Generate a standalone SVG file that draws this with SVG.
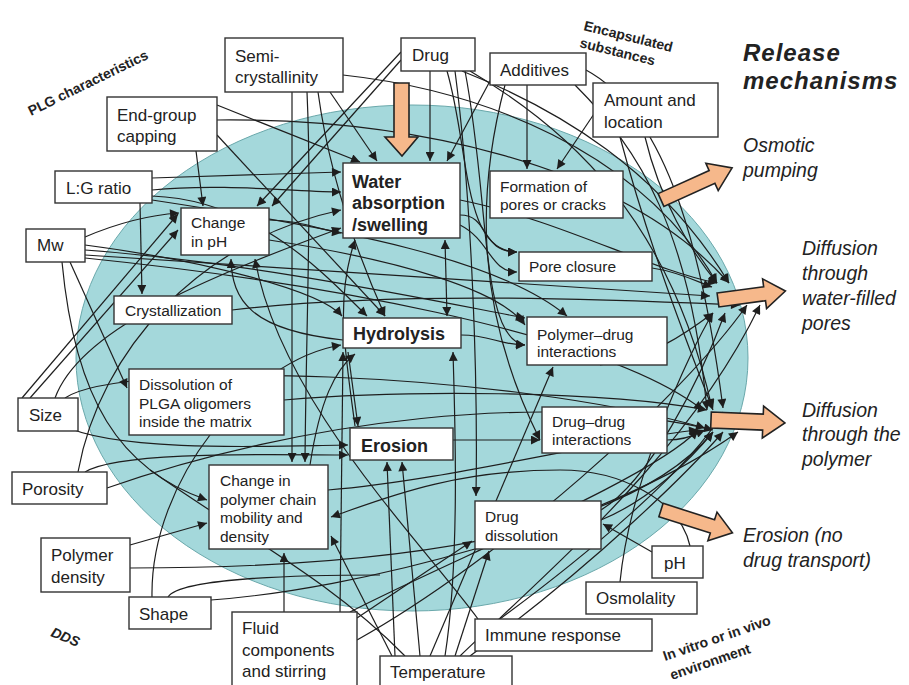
<svg xmlns="http://www.w3.org/2000/svg" width="909" height="685" viewBox="0 0 909 685">
<style>
.c{fill:none;stroke:#1e1e1e;stroke-width:1.2;marker-end:url(#ah)}
.c0{fill:none;stroke:#1e1e1e;stroke-width:1.2}
.b{marker-start:url(#ah)}
.n rect{fill:#fff;stroke:#333;stroke-width:1.4}
.t17{font-family:"Liberation Sans",Arial,sans-serif;font-size:17px;fill:#222}
.t15{font-family:"Liberation Sans",Arial,sans-serif;font-size:15.5px;fill:#222}
.tb{font-family:"Liberation Sans",Arial,sans-serif;font-size:18px;font-weight:bold;fill:#222}
.ti{font-family:"Liberation Sans",Arial,sans-serif;font-size:19.5px;font-style:italic;fill:#222}
.tr{font-family:"Liberation Sans",Arial,sans-serif;font-size:24px;font-style:italic;font-weight:bold;letter-spacing:1px;fill:#222}
.tg{font-family:"Liberation Sans",Arial,sans-serif;font-size:14px;font-weight:bold;fill:#222}
.oa{fill:#f6b88b;stroke:#222;stroke-width:1.6;stroke-linejoin:miter}
</style>
<defs>
<marker id="ah" viewBox="0 0 10 10" refX="10" refY="5" markerWidth="10" markerHeight="9" markerUnits="userSpaceOnUse" orient="auto-start-reverse">
<path d="M0,0 L10,5 L0,10 z" fill="#1e1e1e"/>
</marker>
</defs>
<rect x="0" y="0" width="909" height="685" fill="#fff"/>
<ellipse cx="412" cy="358" rx="336" ry="253" fill="#a4d8db" stroke="#6aa8ab" stroke-width="1"/>

<!-- group labels -->
<text class="tg" font-size="15px" transform="translate(31,116) rotate(-26)">PLG characteristics</text>
<text class="tg" transform="translate(583,30) rotate(14)">Encapsulated</text>
<text class="tg" transform="translate(579,47) rotate(14)">substances</text>
<text class="tg" font-style="italic" transform="translate(50,636) rotate(22)">DDS</text>
<text class="tg" transform="translate(665,661) rotate(-19)">In vitro or in vivo</text>
<text class="tg" transform="translate(672,680) rotate(-19)">environment</text>

<g id="connectors">
<!-- Semi-crystallinity -->
<path class="c" d="M330,92 L377,161"/>
<path class="c" d="M292,92 L292,462"/>
<path class="c" d="M307,92 C312,200 306,330 305,462"/>
<path class="c" d="M318,92 C330,180 360,260 385,316"/>
<path class="c" d="M343,75 C480,90 640,150 717,283"/>
<!-- Drug -->
<path class="c" d="M430,71 L430,161"/>
<path class="c" d="M401,52 L257,206"/>
<path class="c" d="M401,60 L272,206"/>
<path class="c" d="M462,71 C560,110 660,170 729,283"/>
<path class="c" d="M470,71 C570,130 670,220 712,408"/>
<path class="c" d="M455,71 C472,200 478,380 476,496"/>
<path class="c" d="M447,71 C470,150 462,252 517,252"/>
<path class="c" d="M465,71 C490,200 480,340 525,345"/>
<!-- Additives -->
<path class="c" d="M497,68 L447,161"/>
<path class="c" d="M527,85 L527,169"/>
<path class="c" d="M505,85 C480,180 470,300 540,440"/>
<path class="c" d="M586,70 C660,110 700,230 723,408"/>
<path class="c" d="M575,85 C640,150 690,230 707,410"/>
<!-- Amount and location -->
<path class="c" d="M600,105 L557,169"/>
<path class="c" d="M620,137 C650,250 690,350 713,410"/>
<path class="c" d="M645,137 C660,200 690,250 717,283"/>
<!-- End-group capping -->
<path class="c" d="M196,151 L203,206"/>
<path class="c" d="M217,105 L360,162"/>
<path class="c" d="M217,135 L385,316"/>
<path class="c" d="M217,120 C400,118 620,160 729,283"/>
<!-- L:G ratio -->
<path class="c" d="M152,178 L341,172"/>
<path class="c" d="M152,190 C220,183 300,192 341,192"/>
<path class="c" d="M140,203 L142,294"/>
<path class="c" d="M152,196 C260,200 330,280 367,316"/>
<path class="c" d="M152,200 C350,230 500,260 567,316"/>
<!-- Mw -->
<path class="c" d="M85,237 C120,222 150,215 179,213"/>
<path class="c" d="M70,262 L127,388"/>
<path class="c" d="M85,245 C200,260 320,290 342,316"/>
<path class="c" d="M85,250 C250,262 430,300 525,318"/>
<path class="c" d="M85,255 L710,296"/>
<path class="c" d="M62,262 C75,400 120,470 207,500"/>
<path class="c" d="M85,258 C300,280 600,330 703,410"/>
<!-- Size -->
<path class="c" d="M22,398 L178,214"/>
<path class="c" d="M30,398 L178,230"/>
<path class="c" d="M62,425 C120,455 300,445 348,445"/>
<path class="c" d="M55,398 C80,330 200,280 341,228"/>
<path class="c" d="M65,398 C120,360 500,370 705,428"/>
<!-- Porosity -->
<path class="c" d="M78,472 C100,350 200,240 341,210"/>
<path class="c" d="M85,472 C120,450 280,455 348,455"/>
<path class="c" d="M107,488 C300,420 550,390 713,430"/>
<!-- Polymer density -->
<path class="c" d="M130,545 L207,523"/>
<path class="c" d="M130,568 C450,568 640,520 713,432"/>
<!-- Shape -->
<path class="c" d="M152,597 C150,480 250,360 341,345"/>
<path class="c" d="M211,600 C350,590 600,530 738,432"/>
<path class="c0" d="M168,597 C180,578 300,575 380,575"/>
<!-- Fluid -->
<path class="c" d="M284,612 L284,553"/>
<path class="c" d="M357,618 L472,541"/>
<path class="c" d="M340,612 L343,352"/>
<path class="c" d="M350,612 C450,560 650,480 698,430"/>
<path class="c" d="M357,640 C500,560 680,400 747,305"/>
<!-- Temperature -->
<path class="c" d="M395,656 L387,462"/>
<path class="c" d="M420,656 L402,462"/>
<path class="c" d="M455,656 L489,551"/>
<path class="c" d="M392,656 L331,536"/>
<path class="c" d="M445,656 C460,560 455,420 453,352"/>
<path class="c" d="M430,656 L553,367"/>
<path class="c" d="M460,656 C560,560 690,450 760,305"/>
<path class="c" d="M470,656 C600,560 690,470 723,432"/>
<path class="c0" d="M405,656 C330,580 250,540 150,470"/>
<!-- Immune response -->
<path class="c" d="M478,619 C420,540 280,400 255,259"/>
<path class="c" d="M500,619 C580,560 690,470 723,412"/>
<!-- pH -->
<path class="c" d="M652,552 L603,524"/>
<path class="c" d="M690,546 C680,500 620,470 560,470 C450,470 380,500 331,517"/>
<!-- Osmolality -->
<path class="c" d="M620,582 C630,480 690,350 713,313"/>
<!-- internal -->
<path class="c b" d="M445,240 L447,316"/>
<path class="c" d="M355,426 C345,350 335,300 355,240"/>
<path class="c" d="M348,352 L358,426"/>
<path class="c" d="M460,215 C490,215 480,252 517,252"/>
<path class="c" d="M460,225 C490,240 490,272 517,272"/>
<path class="c" d="M460,200 C560,220 650,270 717,283"/>
<path class="c" d="M461,335 C490,335 500,345 525,345"/>
<path class="c" d="M453,440 L540,440"/>
<path class="c" d="M343,340 C250,330 232,300 231,259"/>
<path class="c" d="M652,268 C680,272 700,283 712,287"/>
<path class="c" d="M600,365 C650,360 690,330 713,313"/>
<path class="c" d="M667,440 C690,440 700,432 705,430"/>
<path class="c" d="M601,510 C650,480 700,380 725,313"/>
<path class="c" d="M601,520 C650,500 690,460 713,432"/>
<path class="c" d="M328,490 C450,480 600,440 698,430"/>
<path class="c" d="M310,465 C320,400 335,370 355,354"/>
<path class="c" d="M284,400 C400,390 600,390 707,410"/>
<path class="c" d="M269,220 C300,220 320,230 341,233"/>
<path class="c" d="M269,240 C400,260 500,290 525,325"/>
<path class="c" d="M232,310 C400,290 620,300 740,305"/>
</g>

<!-- orange arrows -->
<polygon class="oa" points="394,83 409,83 409,137 418,137 402,156 385,137 394,137"/>
<polygon class="oa" transform="translate(661,200) rotate(-24.3)" points="0,-7 56,-7 56,-15 78,0 56,15 56,7 0,7"/>
<polygon class="oa" transform="translate(718,300) rotate(-7.6)" points="0,-7 47,-7 47,-15 68,0 47,15 47,7 0,7"/>
<polygon class="oa" transform="translate(711,420) rotate(2.3)" points="0,-8 52,-8 52,-16 74,0 52,16 52,8 0,8"/>
<polygon class="oa" transform="translate(661,510) rotate(17.7)" points="0,-7 54,-7 54,-15 75,0 54,15 54,7 0,7"/>

<!-- nodes -->
<g id="semi" class="n"><rect x="225" y="38" width="118" height="54"/><text class="t17" x="235" y="62">Semi-</text><text class="t17" x="235" y="83">crystallinity</text></g>
<g id="drug" class="n"><rect x="401" y="38" width="74" height="33"/><text class="t17" x="412" y="61">Drug</text></g>
<g id="additives" class="n"><rect x="490" y="53" width="96" height="32"/><text class="t17" x="500" y="76">Additives</text></g>
<g id="amount" class="n"><rect x="593" y="83" width="125" height="54"/><text class="t17" x="604" y="106">Amount and</text><text class="t17" x="604" y="128">location</text></g>
<g id="endgroup" class="n"><rect x="107" y="97" width="110" height="54"/><text class="t17" x="117" y="121">End-group</text><text class="t17" x="117" y="142">capping</text></g>
<g id="lg" class="n"><rect x="55" y="171" width="97" height="32"/><text class="t17" x="66" y="194">L:G ratio</text></g>
<g id="water" class="n"><rect x="343" y="163" width="117" height="75"/><text class="tb" x="352" y="188">Water</text><text class="tb" x="352" y="209">absorption</text><text class="tb" x="352" y="231">/swelling</text></g>
<g id="changeph" class="n"><rect x="181" y="208" width="88" height="47"/><text class="t15" x="191" y="228">Change</text><text class="t15" x="191" y="247">in pH</text></g>
<g id="formation" class="n"><rect x="490" y="171" width="133" height="47"/><text class="t15" x="500" y="192">Formation of</text><text class="t15" x="500" y="210">pores or cracks</text></g>
<g id="mw" class="n"><rect x="26" y="229" width="59" height="33"/><text class="t17" x="37" y="251">Mw</text></g>
<g id="cryst" class="n"><rect x="114" y="296" width="118" height="28"/><text class="t15" x="125" y="316">Crystallization</text></g>
<g id="hydro" class="n"><rect x="343" y="318" width="118" height="30"/><text class="tb" x="353" y="340">Hydrolysis</text></g>
<g id="pore" class="n"><rect x="519" y="252" width="133" height="29"/><text class="t15" x="529" y="272">Pore closure</text></g>
<g id="polydrug" class="n"><rect x="527" y="317" width="140" height="48"/><text class="t15" x="537" y="340">Polymer–drug</text><text class="t15" x="537" y="357">interactions</text></g>
<g id="dissol" class="n"><rect x="129" y="369" width="155" height="66"/><text class="t15" x="139" y="390">Dissolution of</text><text class="t15" x="139" y="409">PLGA oligomers</text><text class="t15" x="139" y="427">inside the matrix</text></g>
<g id="size" class="n"><rect x="18" y="398" width="60" height="33"/><text class="t17" x="29" y="421">Size</text></g>
<g id="erosion" class="n"><rect x="350" y="428" width="103" height="32"/><text class="tb" x="361" y="452">Erosion</text></g>
<g id="drugdrug" class="n"><rect x="542" y="407" width="125" height="46"/><text class="t15" x="552" y="427">Drug–drug</text><text class="t15" x="552" y="445">interactions</text></g>
<g id="porosity" class="n"><rect x="12" y="472" width="95" height="32"/><text class="t17" x="22" y="495">Porosity</text></g>
<g id="chain" class="n"><rect x="209" y="465" width="119" height="84"/><text class="t15" x="220" y="486">Change in</text><text class="t15" x="220" y="505">polymer chain</text><text class="t15" x="220" y="523">mobility and</text><text class="t15" x="220" y="542">density</text></g>
<g id="polydens" class="n"><rect x="41" y="538" width="89" height="54"/><text class="t17" x="51" y="561">Polymer</text><text class="t17" x="51" y="583">density</text></g>
<g id="shape" class="n"><rect x="129" y="597" width="82" height="32"/><text class="t17" x="139" y="620">Shape</text></g>
<g id="fluid" class="n"><rect x="232" y="612" width="125" height="80"/><text class="t17" x="242" y="634">Fluid</text><text class="t17" x="242" y="656">components</text><text class="t17" x="242" y="677">and stirring</text></g>
<g id="temp" class="n"><rect x="380" y="656" width="132" height="36"/><text class="t17" x="390" y="678">Temperature</text></g>
<g id="drugdis" class="n"><rect x="475" y="501" width="126" height="48"/><text class="t15" x="485" y="522">Drug</text><text class="t15" x="485" y="541">dissolution</text></g>
<g id="ph" class="n"><rect x="652" y="546" width="51" height="32"/><text class="t17" x="664" y="569">pH</text></g>
<g id="osmo" class="n"><rect x="586" y="582" width="111" height="32"/><text class="t17" x="596" y="604">Osmolality</text></g>
<g id="immune" class="n"><rect x="475" y="619" width="177" height="32"/><text class="t17" x="485" y="641">Immune response</text></g>

<!-- release mechanisms -->
<g id="release">
<text class="tr" x="743" y="61">Release</text>
<text class="tr" x="743" y="89">mechanisms</text>
<text class="ti" x="743" y="152">Osmotic</text>
<text class="ti" x="743" y="177">pumping</text>
<text class="ti" x="802" y="255">Diffusion</text>
<text class="ti" x="802" y="280">through</text>
<text class="ti" x="802" y="305">water-filled</text>
<text class="ti" x="802" y="330">pores</text>
<text class="ti" x="802" y="417">Diffusion</text>
<text class="ti" x="802" y="441">through the</text>
<text class="ti" x="802" y="466">polymer</text>
<text class="ti" x="743" y="542">Erosion (no</text>
<text class="ti" x="743" y="567">drug transport)</text>
</g>
</svg>
